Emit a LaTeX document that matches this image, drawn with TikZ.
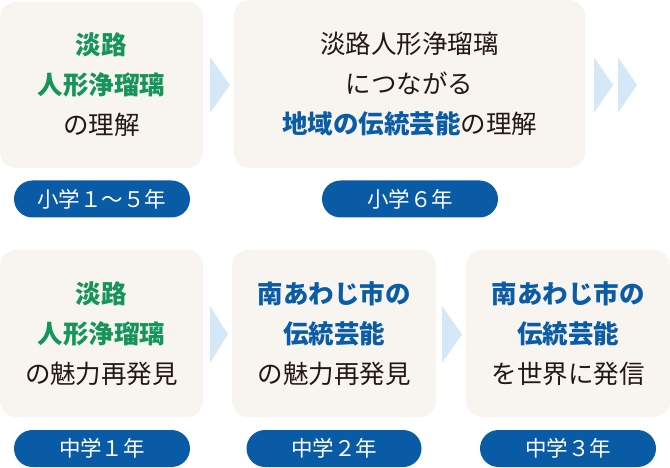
\documentclass[tikz,border=0pt]{standalone}
\usepackage{fontspec}
\setmainfont{Noto Sans CJK JP}
\definecolor{boxbg}{HTML}{F8F4EF}
\definecolor{jgreen}{HTML}{16955A}
\definecolor{jblue}{HTML}{0B5CA6}
\definecolor{pillblue}{HTML}{0A5BA6}
\definecolor{arrowblue}{HTML}{D5E8F7}
\definecolor{txt}{HTML}{231815}
\tikzset{
  stagebox/.style={fill=boxbg, rounded corners=16pt, inner sep=0pt, align=center,
    text=txt, font=\fontsize{25.5}{40}\selectfont},
  pill/.style={fill=pillblue, rounded corners=18.5pt, minimum height=37pt, minimum width=176pt,
    inner sep=0pt, text=white, font=\fontsize{21.5}{24}\selectfont},
  chev/.style={fill=arrowblue, draw=none},
}
\newcommand{\gtxt}[1]{\textcolor{jgreen}{\bfseries #1}}
\newcommand{\btxt}[1]{\textcolor{jblue}{\bfseries #1}}
\begin{document}
\begin{tikzpicture}[x=1pt,y=-1pt]
\useasboundingbox (0,0) rectangle (670,468);
% boxes
\node[stagebox, minimum width=203pt, minimum height=166pt] (b1) at (101.5,85) {\gtxt{淡路}\\\gtxt{人形浄瑠璃}\\の理解};
\node[stagebox, minimum width=351pt, minimum height=168pt] (b2) at (409.5,84) {淡路人形浄瑠璃\\につながる\\\btxt{地域の伝統芸能}の理解};
\node[stagebox, minimum width=203pt, minimum height=167pt] (b3) at (101.5,333.5) {\gtxt{淡路}\\\gtxt{人形浄瑠璃}\\の魅力再発見};
\node[stagebox, minimum width=204pt, minimum height=167pt] (b4) at (334,333.5) {\btxt{南あわじ市の}\\\btxt{伝統芸能}\\の魅力再発見};
\node[stagebox, minimum width=204pt, minimum height=167pt] (b5) at (568,333.5) {\btxt{南あわじ市の}\\\btxt{伝統芸能}\\を世界に発信};
% pills
\node[pill] (p1) at (102,199) {小学１～５年};
\node[pill] (p2) at (410,199) {小学６年};
\node[pill] (p3) at (102,448.5) {中学１年};
\node[pill, minimum width=175pt] (p4) at (334,448.5) {中学２年};
\node[pill] (p5) at (568,448.5) {中学３年};
% chevrons
\fill[chev] (210,57) -- (230,85) -- (210,113) -- cycle;
\fill[chev] (594,57) -- (613,85) -- (594,113) -- cycle;
\fill[chev] (618,57) -- (637,85) -- (618,113) -- cycle;
\fill[chev] (210,306) -- (228,334.5) -- (210,363) -- cycle;
\fill[chev] (442,306) -- (462,334.5) -- (442,363) -- cycle;
\end{tikzpicture}
\end{document}
